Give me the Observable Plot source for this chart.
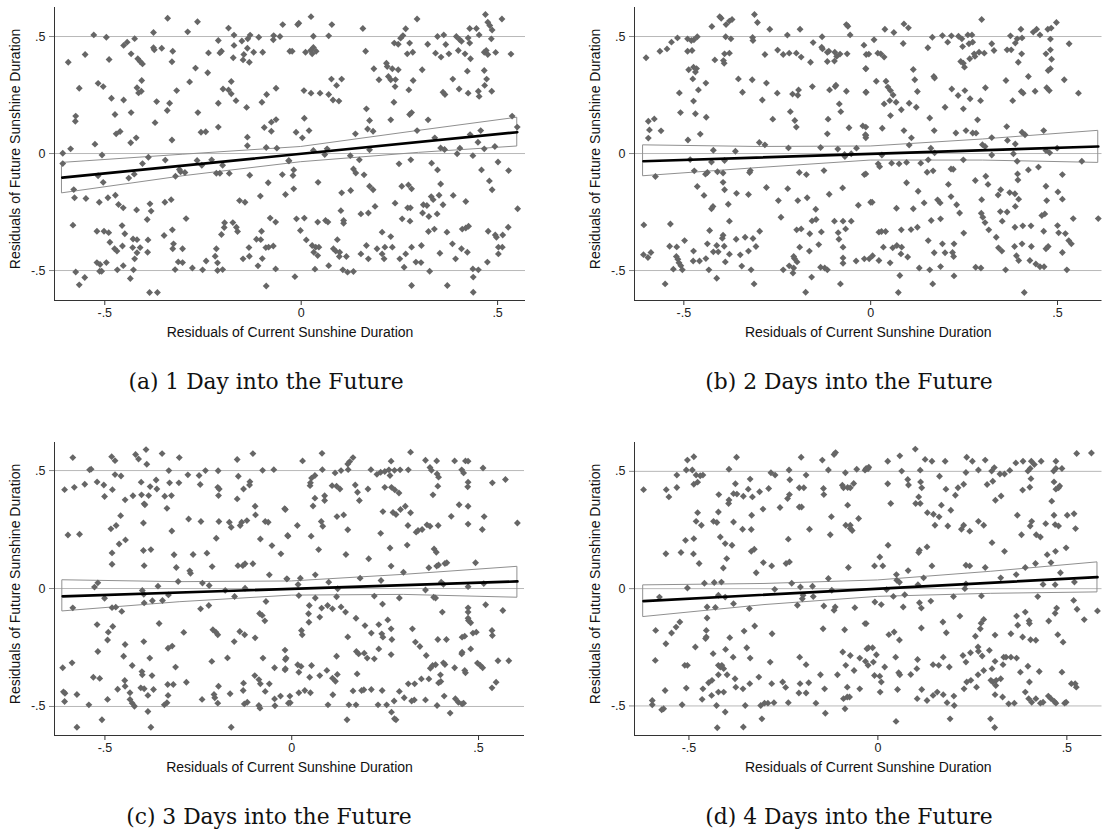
<!DOCTYPE html>
<html>
<head>
<meta charset="utf-8">
<script src="https://cdn.jsdelivr.net/npm/d3@7"></script>
<script src="https://cdn.jsdelivr.net/npm/@observablehq/plot@0.6"></script>
<style>
  html, body { margin: 0; padding: 0; background: #fff; }
  body { position: relative; width: 1102px; height: 833px; overflow: hidden; }
  .panel { position: absolute; }
  .cap { position: absolute; text-align: center; font-family: "DejaVu Serif", serif; font-size: 21.8px; line-height: 30px; color: #111; }
</style>
</head>
<body>
<div id="pa" class="panel" style="left:0;top:0"></div>
<div id="pb" class="panel" style="left:580px;top:0"></div>
<div id="pc" class="panel" style="left:0;top:435px"></div>
<div id="pd" class="panel" style="left:580px;top:435px"></div>
<div id="ca" class="cap" style="left:0;width:532px;top:367px"></div>
<div id="cb" class="cap" style="left:580px;width:538px;top:367px"></div>
<div id="cc" class="cap" style="left:0;width:538px;top:802px"></div>
<div id="cd" class="cap" style="left:580px;width:538px;top:802px"></div>
<script>
// ---------- text ----------
const captions = ["(a) 1 Day into the Future", "(b) 2 Days into the Future", "(c) 3 Days into the Future", "(d) 4 Days into the Future"];
const xTitle = "Residuals of Current Sunshine Duration";
const yTitle = "Residuals of Future Sunshine Duration";
const xTicks = [-0.5, 0, 0.5];
const xTickLabels = ["-.5", "0", ".5"];
const yTicks = [-0.5, 0, 0.5];
const yTickLabels = ["-.5", "0", ".5"];

// ---------- fitted line and 95% CI, read at a few x positions ----------
const fitA = {x: [-.608, -.3, 0, .3, .55], fit: [-.103, -.05, 0, .05, .091], lo: [-.170, -.097, -.037, .003, .030], hi: [-.040, -.005, .028, .097, .153]};
const fitB = {x: [-.608, -.3, 0, .3, .609], fit: [-.033, -.017, 0, .015, .030], lo: [-.097, -.062, -.03, -.03, -.040], hi: [.035, .028, .03, .06, .097]};
const fitC = {x: [-.613, -.3, 0, .3, .604], fit: [-.033, -.016, 0, .015, .030], lo: [-.097, -.058, -.03, -.027, -.039], hi: [.035, .027, .03, .058, .092]};
const fitD = {x: [-.62, -.3, 0, .3, .581], fit: [-.053, -.025, 0, .025, .049], lo: [-.121, -.07, -.035, -.022, -.016], hi: [.014, .02, .035, .072, .112]};

// ---------- scatter points [x, y] ----------
const pointsA = [[-.34,.578],[-.264,.563],[-.047,.551],[-.185,.536],[-.376,.517],[-.289,.52],[-.528,.507],[-.496,.497],[-.171,.506],[-.13,.506],[-.108,.497],[-.07,.504],[-.054,.5],[-.136,.49],[-.151,.481],[-.211,.483],[-.071,.486],[-.443,.476],[-.424,.491],[-.452,.462],[-.171,.462],[-.376,.452],[-.374,.443],[-.355,.45],[-.327,.437],[-.236,.43],[-.207,.43],[-.203,.437],[-.121,.433],[-.098,.433],[-.137,.45],[-.146,.423],[-.029,.437],[-.55,.423],[-.433,.426],[-.173,.409],[-.148,.4],[-.132,.39],[-.416,.405],[-.41,.393],[-.404,.383],[-.489,.402],[-.593,.39],[-.329,.392],[-.269,.365],[-.238,.345],[-.406,.312],[-.178,.308],[-.284,.306],[-.517,.3],[-.504,.286],[-.565,.279],[-.064,.279],[-.418,.281],[-.407,.266],[-.414,.259],[-.317,.269],[-.199,.276],[-.185,.272],[-.178,.255],[-.088,.252],[-.483,.236],[-.452,.229],[-.166,.226],[-.368,.222],[-.335,.215],[-.211,.215],[-.1,.219],[-.139,.197],[-.341,.184],[-.433,.175],[-.263,.175],[-.474,.167],[-.574,.16],[-.575,.138],[-.064,.145],[-.076,.134],[-.372,.132],[-.211,.113],[-.094,.111],[-.076,.095],[-.461,.094],[-.471,.084],[-.255,.091],[-.243,.093],[-.137,.07],[-.42,.067],[-.329,.058],[-.434,.046],[-.525,.04],[-.137,.033],[-.089,.026],[-.062,.023],[-.587,.02],[-.607,.001],[-.507,-.006],[-.389,-.016],[-.607,-.043],[-.404,-.043],[-.346,-.028],[-.265,-.03],[-.228,-.027],[-.253,-.05],[-.2,-.05],[-.032,-.031],[-.31,-.068],[-.307,-.078],[-.296,-.081],[-.216,-.084],[-.207,-.084],[-.183,-.085],[-.425,-.088],[-.048,-.09],[-.32,-.097],[-.131,-.093],[-.517,-.095],[-.439,-.105],[-.504,-.123],[-.084,-.125],[-.579,-.154],[-.04,-.175],[-.104,-.182],[-.577,-.189],[-.548,-.192],[-.492,-.189],[-.473,-.178],[-.514,-.208],[-.347,-.208],[-.331,-.197],[-.157,-.201],[-.143,-.208],[-.465,-.218],[-.453,-.232],[-.385,-.215],[-.419,-.241],[-.382,-.246],[-.293,-.278],[-.392,-.282],[-.079,-.276],[-.065,-.293],[-.581,-.306],[-.195,-.296],[-.196,-.316],[-.174,-.295],[-.165,-.315],[-.162,-.333],[-.52,-.332],[-.502,-.332],[-.49,-.338],[-.456,-.308],[-.449,-.343],[-.328,-.326],[-.203,-.346],[-.101,-.332],[-.349,-.35],[-.487,-.379],[-.428,-.365],[-.418,-.368],[-.39,-.369],[-.114,-.366],[-.103,-.368],[-.475,-.407],[-.469,-.417],[-.455,-.395],[-.429,-.402],[-.41,-.402],[-.325,-.386],[-.327,-.407],[-.302,-.407],[-.216,-.407],[-.133,-.402],[-.09,-.402],[-.083,-.4],[-.071,-.395],[-.418,-.424],[-.391,-.422],[-.424,-.45],[-.148,-.45],[-.132,-.439],[-.242,-.459],[-.219,-.439],[-.213,-.467],[-.099,-.449],[-.52,-.466],[-.512,-.474],[-.496,-.466],[-.453,-.479],[-.313,-.463],[-.302,-.466],[-.277,-.489],[-.251,-.497],[-.213,-.5],[-.2,-.496],[-.11,-.48],[-.513,-.503],[-.508,-.503],[-.468,-.497],[-.427,-.497],[-.321,-.496],[-.065,-.493],[-.574,-.506],[-.551,-.53],[-.435,-.534],[-.565,-.561],[-.089,-.566],[-.386,-.594],[-.366,-.594],
[.025,.585],[.469,.594],[.511,.575],[-.006,.557],[-.009,.551],[.078,.551],[.475,.561],[.48,.547],[.295,.575],[.157,.534],[.266,.533],[.429,.534],[.446,.534],[.486,.528],[.031,.501],[.07,.503],[.259,.504],[.253,.493],[.347,.5],[.363,.507],[.395,.5],[.403,.487],[.408,.48],[.425,.494],[.453,.507],[.484,.49],[.237,.472],[.247,.467],[.276,.472],[.322,.467],[.368,.466],[.429,.472],[-.023,.437],[.011,.433],[.024,.44],[.031,.453],[.028,.426],[.038,.437],[.164,.437],[.27,.426],[.284,.433],[.342,.429],[.356,.412],[.376,.426],[.4,.44],[.417,.426],[.466,.433],[.471,.44],[.475,.423],[.495,.432],[.534,.425],[.431,.405],[.217,.386],[.219,.372],[.185,.362],[.232,.362],[.247,.358],[.308,.358],[.466,.355],[.423,.352],[.222,.329],[.228,.315],[.24,.316],[.198,.315],[.285,.312],[.386,.318],[.472,.318],[.077,.318],[.09,.291],[.103,.318],[.467,.291],[.007,.269],[.025,.258],[.048,.258],[.07,.252],[.081,.229],[.096,.224],[.239,.286],[.274,.272],[.361,.262],[.366,.252],[.402,.276],[.425,.258],[.451,.266],[.453,.244],[.485,.266],[.236,.219],[.166,.191],[.008,.151],[.174,.141],[.228,.144],[.276,.167],[.281,.175],[.323,.144],[.537,.16],[.55,.113],[-.013,.091],[.02,.098],[.003,.067],[.138,.084],[.169,.105],[.183,.095],[.295,.098],[.457,.098],[.43,.081],[.34,.067],[.45,.048],[.355,.024],[.365,.017],[.466,.02],[.493,.03],[.404,.023],[.031,.013],[.066,.02],[.174,.016],[.06,-.004],[.125,-.009],[.397,-.001],[.437,-.009],[-.031,-.031],[.148,-.027],[.279,-.027],[.332,-.041],[.249,-.044],[.501,-.036],[.528,-.073],[.133,-.066],[.139,-.083],[.347,-.07],[.459,-.07],[.16,-.091],[-.019,-.07],[-.021,-.094],[.043,-.123],[-.019,-.151],[.479,-.117],[.174,-.14],[.183,-.155],[.256,-.14],[.273,-.134],[.281,-.151],[.355,-.13],[.486,-.155],[.103,-.168],[.126,-.158],[.331,-.184],[.351,-.178],[.387,-.179],[.419,-.205],[.336,-.197],[.239,-.212],[.311,-.219],[.188,-.226],[.271,-.232],[.278,-.232],[.361,-.219],[.551,-.236],[.101,-.244],[.152,-.258],[.171,-.254],[.309,-.254],[.32,-.222],[.325,-.269],[.346,-.258],[-.012,-.279],[.008,-.276],[.257,-.279],[.277,-.289],[.042,-.293],[.062,-.286],[.068,-.293],[.108,-.286],[.108,-.298],[-.002,-.329],[.206,-.336],[.228,-.355],[.324,-.333],[.339,-.323],[.371,-.336],[.41,-.323],[.419,-.318],[.426,-.311],[.476,-.332],[.494,-.348],[.497,-.358],[.513,-.348],[.527,-.315],[.013,-.369],[.028,-.393],[.037,-.4],[.045,-.4],[.032,-.422],[.042,-.436],[.092,-.368],[.082,-.407],[.088,-.417],[.098,-.422],[.115,-.44],[.097,-.44],[.152,-.429],[.166,-.393],[.171,-.45],[.193,-.407],[.206,-.429],[.211,-.45],[.213,-.4],[.232,-.4],[.251,-.45],[.266,-.429],[.281,-.4],[.306,-.393],[.292,-.464],[.305,-.466],[.353,-.426],[.385,-.386],[.393,-.45],[.408,-.407],[.423,-.422],[.474,-.464],[.502,-.4],[.512,-.4],[.502,-.429],[.07,-.479],[.035,-.494],[.106,-.497],[.118,-.507],[.133,-.504],[.262,-.486],[.327,-.503],[.437,-.493],[.451,-.497],[.438,-.528],[-.016,-.526],[.281,-.564],[.372,-.564],[.438,-.593]];

const pointsB = [[-.601,.409],[-.404,.585],[-.4,.578],[-.378,.566],[-.387,.551],[-.371,.573],[-.311,.594],[-.303,.56],[-.425,.543],[-.27,.531],[-.189,.531],[-.065,.551],[-.061,.544],[-.055,.507],[-.517,.494],[-.533,.476],[-.49,.49],[-.48,.483],[-.473,.486],[-.464,.499],[-.388,.499],[-.374,.49],[-.316,.496],[-.315,.483],[-.223,.506],[-.13,.499],[-.154,.474],[-.131,.454],[-.129,.447],[-.018,.463],[-.564,.437],[-.545,.447],[-.49,.437],[-.478,.44],[-.391,.426],[-.378,.429],[-.249,.442],[-.234,.423],[-.218,.429],[-.199,.429],[-.186,.412],[-.161,.39],[-.116,.433],[-.112,.437],[-.096,.433],[-.082,.425],[-.063,.426],[-.012,.423],[-.283,.423],[-.417,.4],[-.394,.397],[-.392,.386],[-.116,.393],[-.097,.395],[-.091,.415],[-.013,.363],[-.487,.358],[-.474,.369],[-.466,.363],[-.469,.348],[-.476,.319],[-.441,.301],[-.354,.319],[-.317,.315],[-.279,.301],[-.193,.272],[-.195,.249],[-.209,.254],[-.461,.272],[-.512,.259],[-.343,.262],[-.25,.258],[-.156,.286],[-.11,.272],[-.095,.286],[-.093,.292],[-.065,.266],[-.012,.262],[-.474,.224],[-.29,.229],[-.084,.212],[-.08,.179],[-.509,.175],[-.469,.17],[-.44,.155],[-.215,.179],[-.262,.147],[-.203,.141],[-.199,.113],[-.114,.147],[-.058,.11],[-.021,.118],[-.595,.138],[-.579,.148],[-.592,.101],[-.561,.097],[-.456,.083],[-.116,.084],[-.014,.08],[-.013,.067],[-.595,.066],[-.489,.058],[-.298,.047],[-.283,.037],[-.421,.014],[-.362,.01],[-.22,.024],[-.134,.026],[-.088,.019],[-.038,.023],[-.483,-.026],[-.426,-.036],[-.391,-.03],[-.07,-.004],[-.052,-.001],[-.069,-.013],[-.576,-.098],[-.472,-.074],[-.442,-.088],[-.437,-.081],[-.41,-.078],[-.395,-.083],[-.322,-.073],[-.324,-.081],[-.191,-.081],[-.172,-.09],[-.125,-.073],[-.017,-.09],[-.395,-.123],[-.464,-.141],[-.391,-.155],[-.446,-.179],[-.359,-.17],[-.327,-.175],[-.279,-.145],[-.222,-.15],[-.111,-.174],[-.075,-.147],[-.247,-.201],[-.195,-.201],[-.17,-.189],[-.381,-.217],[-.422,-.226],[-.426,-.236],[-.033,-.221],[0,-.208],[-.147,-.238],[-.24,-.272],[-.378,-.289],[-.536,-.301],[-.607,-.305],[-.157,-.288],[-.146,-.282],[-.097,-.289],[-.074,-.289],[-.052,-.289],[-.067,-.322],[-.198,-.326],[-.186,-.322],[-.431,-.329],[-.297,-.332],[-.163,-.343],[-.132,-.335],[-.087,-.338],[-.498,-.372],[-.336,-.358],[-.315,-.363],[-.395,-.349],[-.397,-.362],[-.36,-.366],[-.538,-.396],[-.519,-.399],[-.437,-.386],[-.412,-.393],[-.392,-.396],[-.307,-.397],[-.19,-.4],[-.139,-.389],[-.074,-.4],[-.164,-.417],[-.085,-.366],[-.474,-.417],[-.421,-.42],[-.408,-.42],[-.378,-.43],[-.349,-.433],[-.327,-.417],[-.588,-.423],[-.608,-.432],[-.596,-.444],[-.52,-.44],[-.516,-.452],[-.441,-.449],[-.206,-.44],[-.204,-.449],[-.197,-.463],[-.475,-.459],[-.458,-.459],[-.389,-.463],[-.345,-.481],[-.017,-.45],[-.039,-.459],[-.074,-.446],[-.074,-.469],[-.513,-.467],[-.508,-.479],[-.504,-.497],[-.528,-.494],[-.433,-.497],[-.234,-.497],[-.218,-.48],[-.206,-.489],[-.208,-.511],[-.134,-.486],[-.123,-.489],[-.116,-.497],[-.32,-.497],[-.412,-.533],[-.158,-.528],[-.55,-.557],[-.312,-.557],[-.081,-.557],[-.174,-.593],
[.297,.573],[.089,.554],[.101,.537],[.038,.531],[.062,.517],[.402,.531],[.435,.519],[.444,.531],[.474,.531],[.483,.536],[.497,.56],[.453,.507],[.165,.497],[.192,.504],[.216,.503],[.235,.501],[.244,.49],[.26,.507],[.271,.507],[.273,.476],[.263,.469],[.374,.503],[.392,.49],[.405,.494],[.481,.489],[.009,.486],[.087,.47],[.206,.476],[.153,.452],[.246,.457],[.324,.469],[.365,.443],[.376,.443],[.387,.472],[.531,.469],[.481,.443],[-.005,.425],[.019,.429],[.027,.426],[.036,.412],[.277,.426],[.279,.415],[.29,.433],[.304,.429],[.33,.44],[.404,.426],[.469,.426],[.241,.393],[.248,.386],[.251,.369],[.265,.405],[.395,.39],[.484,.403],[-.013,.362],[.114,.359],[.169,.329],[.171,.323],[.118,.315],[.015,.309],[.041,.309],[.362,.312],[.422,.329],[.475,.355],[.481,.362],[.518,.315],[.046,.284],[.053,.269],[.125,.265],[.217,.276],[.234,.248],[.252,.269],[.266,.234],[.307,.281],[.403,.265],[.408,.258],[.44,.266],[.471,.281],[.478,.269],[.556,.258],[-.013,.262],[.06,.25],[.051,.226],[.036,.212],[.068,.219],[.103,.215],[.082,.187],[.122,.198],[.199,.198],[.248,.191],[.294,.226],[.38,.226],[.053,.162],[.158,.152],[.286,.144],[-.013,.113],[.031,.108],[.089,.098],[.17,.098],[.228,.088],[.255,.098],[.273,.088],[.282,.087],[.364,.115],[.405,.091],[.413,.08],[.463,.098],[-.013,.077],[.109,.067],[.324,.068],[.103,.036],[.161,.023],[.299,.038],[.306,.03],[.366,.056],[.387,.041],[.469,.013],[.499,.023],[.479,.003],[.03,-.006],[.171,.003],[.324,-.006],[.382,-.001],[.02,-.044],[.024,-.056],[.056,-.041],[.076,-.044],[.096,-.038],[.134,-.041],[.154,-.027],[.248,-.027],[.392,-.033],[.565,-.033],[-.013,-.087],[.151,-.08],[.167,-.074],[.215,-.066],[.221,-.067],[.393,-.087],[.422,-.07],[.449,-.058],[.513,-.09],[.096,-.125],[.208,-.132],[.28,-.115],[.308,-.097],[.314,-.132],[.394,-.113],[.469,-.14],[.127,-.161],[.348,-.155],[.341,-.177],[.372,-.167],[.386,-.172],[.396,-.195],[.004,-.208],[.143,-.211],[.179,-.198],[.186,-.211],[.215,-.184],[.23,-.219],[.297,-.197],[.471,-.201],[.501,-.164],[.513,-.195],[.069,-.234],[.114,-.236],[.238,-.254],[.296,-.255],[.347,-.248],[.365,-.25],[.387,-.226],[.458,-.265],[.466,-.258],[.3,-.272],[.306,-.295],[.162,-.286],[.187,-.279],[.352,-.289],[.386,-.315],[.407,-.309],[.429,-.309],[.5,-.308],[.542,-.278],[.609,-.278],[.022,-.336],[.029,-.333],[.04,-.333],[.082,-.326],[.108,-.325],[.125,-.315],[.249,-.34],[.316,-.326],[.463,-.332],[.503,-.339],[.521,-.342],[.53,-.372],[.537,-.386],[.154,-.372],[.192,-.386],[.223,-.386],[.336,-.358],[.342,-.403],[.351,-.417],[.385,-.397],[.405,-.386],[.43,-.397],[.469,-.407],[.475,-.397],[.513,-.423],[.034,-.4],[.059,-.403],[.07,-.393],[.083,-.4],[.081,-.429],[.099,-.442],[.17,-.424],[.199,-.424],[.219,-.423],[.222,-.44],[-.004,-.45],[.005,-.437],[.022,-.457],[.052,-.467],[.39,-.437],[.396,-.457],[.426,-.457],[.442,-.472],[.453,-.484],[.464,-.484],[.13,-.489],[.158,-.497],[.187,-.483],[.281,-.486],[.295,-.489],[.361,-.497],[.525,-.497],[.078,-.521],[.223,-.523],[.166,-.557],[.074,-.594],[.411,-.594]];

const pointsC = [[-.39,.589],[-.347,.572],[-.586,.555],[-.482,.559],[-.473,.542],[-.418,.568],[-.41,.549],[-.388,.527],[-.301,.555],[-.104,.572],[-.146,.547],[-.541,.503],[-.537,.506],[-.329,.5],[-.231,.5],[-.197,.499],[-.078,.501],[-.048,.504],[-.473,.483],[-.457,.477],[-.278,.482],[-.248,.479],[-.143,.476],[-.363,.46],[-.112,.453],[-.608,.419],[-.582,.429],[-.554,.442],[-.521,.452],[-.503,.439],[-.48,.419],[-.403,.451],[-.379,.432],[-.361,.422],[-.327,.448],[-.302,.448],[-.245,.441],[-.198,.429],[-.194,.422],[-.129,.422],[-.113,.439],[-.501,.39],[-.446,.376],[-.425,.393],[-.402,.397],[-.395,.359],[-.393,.355],[-.383,.394],[-.34,.391],[-.322,.394],[-.196,.394],[-.146,.38],[-.334,.34],[-.098,.349],[-.019,.338],[-.458,.309],[-.484,.253],[-.47,.267],[-.397,.278],[-.321,.244],[-.276,.295],[-.243,.284],[-.195,.284],[-.167,.281],[-.162,.26],[-.138,.267],[-.134,.281],[-.12,.288],[-.097,.312],[-.071,.284],[-.063,.281],[-.599,.227],[-.568,.23],[-.445,.206],[-.462,.189],[-.202,.213],[-.084,.21],[-.011,.225],[-.377,.165],[-.397,.161],[-.481,.151],[-.315,.143],[-.264,.144],[-.227,.15],[-.053,.182],[-.029,.147],[-.481,.103],[-.395,.097],[-.309,.089],[-.273,.075],[-.271,.065],[-.213,.093],[-.144,.097],[-.131,.097],[-.125,.105],[-.104,.105],[-.06,.058],[-.013,.041],[-.304,.03],[-.358,.01],[-.239,.023],[-.221,.013],[-.528,.006],[-.519,.024],[-.4,-.008],[-.396,-.024],[-.33,-.027],[-.178,-.008],[-.125,.001],[-.501,-.041],[-.373,-.052],[-.346,-.051],[-.395,-.061],[-.153,-.034],[-.069,-.055],[-.586,-.082],[-.481,-.081],[-.471,-.079],[-.455,-.097],[-.244,-.086],[-.222,-.072],[-.086,-.106],[-.079,-.114],[-.072,-.137],[-.521,-.153],[-.355,-.148],[-.491,-.185],[-.479,-.161],[-.289,-.186],[-.211,-.175],[-.198,-.196],[-.203,-.185],[-.139,-.182],[-.126,-.196],[-.493,-.218],[-.396,-.225],[-.331,-.253],[-.32,-.244],[-.154,-.225],[-.098,-.209],[-.446,-.237],[-.519,-.267],[-.018,-.261],[-.172,-.294],[-.214,-.309],[-.077,-.295],[-.015,-.295],[-.45,-.287],[-.38,-.295],[-.613,-.336],[-.588,-.315],[-.427,-.326],[-.311,-.333],[-.046,-.336],[-.018,-.345],[-.531,-.376],[-.514,-.381],[-.401,-.352],[-.4,-.366],[-.374,-.369],[-.099,-.369],[-.088,-.386],[-.447,-.39],[-.282,-.397],[-.129,-.401],[-.084,-.404],[-.06,-.404],[-.332,-.407],[-.317,-.407],[-.446,-.414],[-.466,-.427],[-.404,-.421],[-.395,-.425],[-.37,-.428],[-.196,-.414],[-.611,-.438],[-.607,-.444],[-.575,-.449],[-.433,-.442],[-.331,-.453],[-.208,-.449],[-.206,-.463],[-.165,-.446],[-.13,-.432],[-.071,-.436],[-.005,-.456],[-.03,-.456],[-.046,-.468],[-.493,-.47],[-.433,-.47],[-.385,-.453],[-.608,-.479],[-.427,-.486],[-.421,-.499],[-.543,-.493],[-.341,-.493],[-.334,-.484],[-.24,-.47],[-.198,-.486],[-.119,-.482],[-.127,-.489],[-.088,-.496],[-.085,-.507],[-.045,-.497],[-.009,-.486],[-.385,-.521],[-.508,-.556],[-.575,-.588],[-.377,-.588],[-.162,-.588],
[.318,.578],[.081,.573],[.029,.541],[.164,.555],[.155,.538],[.266,.54],[.358,.544],[.388,.541],[.436,.541],[.465,.541],[.472,.54],[.082,.504],[.15,.528],[.151,.504],[.212,.504],[.228,.484],[.238,.493],[.249,.496],[.26,.503],[.263,.479],[.275,.501],[.29,.503],[.312,.503],[.37,.513],[.374,.501],[.389,.486],[.393,.472],[.455,.503],[.46,.49],[.512,.511],[.116,.49],[.132,.5],[.053,.468],[.062,.479],[.05,.448],[.049,.436],[.108,.436],[.12,.434],[.129,.422],[.17,.439],[.204,.422],[.249,.429],[.267,.429],[.276,.418],[.287,.405],[.391,.434],[.472,.451],[.471,.431],[.537,.448],[.572,.462],[.062,.383],[.057,.35],[.088,.393],[.088,.373],[.176,.408],[.181,.373],[.378,.397],[-.017,.335],[.079,.284],[.083,.264],[.015,.267],[.121,.305],[.139,.312],[.15,.249],[.244,.326],[.271,.322],[.279,.314],[.291,.335],[.304,.349],[.318,.321],[.311,.267],[.333,.239],[.338,.246],[.349,.25],[.362,.27],[.37,.264],[.392,.267],[.427,.306],[.448,.355],[.472,.349],[.472,.273],[.51,.25],[.515,.305],[.604,.278],[.238,.234],[-.01,.222],[.052,.222],[.072,.165],[.145,.144],[.206,.126],[.263,.172],[.309,.184],[.381,.168],[.387,.154],[.266,.095],[.299,.069],[.367,.088],[.388,.095],[.393,.1],[.41,.106],[.415,.109],[.492,.109],[-.013,.041],[.023,.044],[.063,.058],[.099,.027],[.183,.044],[.239,.034],[.4,.027],[.406,.018],[.017,.017],[.358,-.006],[.472,.008],[.514,.021],[.123,-.001],[.019,-.03],[.063,-.04],[.12,-.035],[.221,-.032],[.288,-.04],[.38,-.037],[.385,-.04],[.243,-.066],[.047,-.072],[.08,-.083],[.096,-.072],[.109,-.086],[.132,-.078],[.144,-.1],[.045,-.107],[.046,-.143],[.075,-.121],[.172,-.126],[.196,-.157],[.403,-.1],[.472,-.082],[.472,-.1],[.472,-.126],[.473,-.136],[.479,-.145],[.519,-.069],[.565,-.093],[.257,-.133],[.233,-.153],[.266,-.171],[.213,-.189],[.241,-.192],[.244,-.206],[.323,-.171],[.026,-.178],[.028,-.196],[.15,-.205],[.268,-.216],[.391,-.216],[.414,-.216],[.456,-.206],[.463,-.202],[.485,-.189],[.494,-.185],[.536,-.178],[.537,-.199],[.331,-.227],[.343,-.246],[.479,-.256],[.233,-.256],[.173,-.267],[.179,-.277],[.194,-.274],[.202,-.295],[.221,-.298],[.266,-.28],[.36,-.284],[.12,-.287],[.455,-.277],[.456,-.27],[.552,-.306],[-.017,-.301],[-.017,-.34],[.016,-.323],[.025,-.33],[.019,-.355],[.053,-.326],[.048,-.376],[.075,-.369],[.094,-.347],[.109,-.38],[.117,-.393],[.122,-.364],[.175,-.362],[.371,-.338],[.377,-.326],[.385,-.323],[.406,-.315],[.41,-.322],[.398,-.366],[.367,-.383],[.347,-.383],[.329,-.404],[.312,-.404],[.393,-.4],[.399,-.394],[.436,-.336],[.465,-.357],[.463,-.347],[.497,-.316],[.505,-.326],[.511,-.336],[.547,-.397],[.536,-.421],[.581,-.306],[-.004,-.484],[.019,-.442],[.035,-.432],[.05,-.442],[.11,-.45],[.097,-.493],[.153,-.493],[.172,-.493],[.164,-.434],[.187,-.432],[.193,-.429],[.213,-.428],[.242,-.432],[.231,-.493],[.254,-.493],[.267,-.524],[.275,-.552],[.279,-.556],[.148,-.556],[.274,-.477],[.288,-.436],[.301,-.463],[.321,-.477],[.328,-.472],[.358,-.472],[.389,-.496],[.408,-.456],[.424,-.528],[.438,-.467],[.446,-.482],[.456,-.489],[.46,-.486]];

const pointsD = [[-.62,.422],[-.112,.58],[-.116,.572],[-.147,.548],[-.203,.56],[-.374,.56],[-.487,.562],[-.504,.548],[-.491,.506],[-.507,.506],[-.394,.509],[-.283,.494],[-.272,.484],[-.235,.506],[-.131,.506],[-.056,.509],[-.034,.505],[-.026,.511],[-.086,.494],[-.532,.484],[-.481,.484],[-.47,.481],[-.463,.484],[-.487,.445],[-.477,.454],[-.19,.484],[-.338,.467],[-.233,.464],[-.377,.447],[-.56,.422],[-.532,.431],[-.553,.391],[-.421,.401],[-.394,.378],[-.395,.363],[-.382,.405],[-.373,.403],[-.356,.394],[-.343,.424],[-.332,.391],[-.313,.413],[-.289,.427],[-.234,.401],[-.239,.384],[-.208,.43],[-.196,.43],[-.144,.427],[-.143,.401],[-.094,.441],[-.091,.43],[-.08,.431],[-.073,.43],[-.064,.448],[-.422,.327],[-.435,.287],[-.426,.282],[-.477,.324],[-.481,.287],[-.467,.27],[-.334,.313],[-.304,.339],[-.382,.284],[-.259,.346],[-.208,.348],[-.202,.348],[-.123,.307],[-.08,.356],[-.051,.299],[-.085,.27],[-.073,.27],[-.073,.256],[-.068,.248],[-.126,.23],[-.237,.211],[-.335,.252],[-.358,.253],[-.181,.253],[-.417,.22],[-.404,.192],[-.386,.185],[-.509,.206],[-.487,.213],[-.488,.148],[-.473,.107],[-.561,.149],[-.521,.154],[-.4,.128],[-.409,.088],[-.335,.159],[-.327,.168],[-.322,.068],[-.303,.111],[-.281,.097],[-.243,.107],[-.234,.114],[-.228,.023],[-.273,-.003],[-.131,.043],[-.078,.09],[-.459,.023],[-.433,.026],[-.414,.028],[-.504,.003],[-.578,-.036],[-.422,-.028],[-.404,-.036],[-.382,-.064],[-.34,-.085],[-.205,.007],[-.198,-.028],[-.2,-.043],[-.173,.01],[-.171,-.034],[-.122,-.007],[-.213,-.071],[-.143,-.074],[-.113,-.078],[-.116,-.092],[-.061,-.081],[-.452,-.078],[-.43,-.08],[-.452,-.125],[-.588,-.178],[-.546,-.189],[-.534,-.164],[-.524,-.142],[-.454,-.178],[-.454,-.206],[-.456,-.213],[-.392,-.209],[-.354,-.181],[-.326,-.159],[-.28,-.192],[-.145,-.171],[-.088,-.175],[-.031,-.149],[-.561,-.235],[-.483,-.249],[-.436,-.277],[-.403,-.259],[-.347,-.252],[-.093,-.27],[-.073,-.285],[-.048,-.296],[-.029,-.256],[-.589,-.306],[-.511,-.327],[-.338,-.296],[-.383,-.292],[-.285,-.313],[-.207,-.292],[-.19,-.324],[-.085,-.327],[-.063,-.349],[-.033,-.31],[-.026,-.327],[-.422,-.327],[-.417,-.334],[-.413,-.327],[-.408,-.341],[-.422,-.367],[-.399,-.367],[-.439,-.391],[-.448,-.401],[-.463,-.427],[-.44,-.455],[-.422,-.441],[-.408,-.441],[-.378,-.384],[-.376,-.42],[-.357,-.427],[-.339,-.405],[-.315,-.377],[-.281,-.405],[-.252,-.398],[-.244,-.421],[-.206,-.405],[-.209,-.445],[-.19,-.445],[-.183,-.401],[-.164,-.488],[-.152,-.367],[-.141,-.427],[-.107,-.367],[-.081,-.42],[-.081,-.462],[-.075,-.462],[-.048,-.427],[-.091,-.469],[-.087,-.512],[-.507,-.424],[-.563,-.434],[-.504,-.327],[-.465,-.472],[-.597,-.477],[-.597,-.495],[-.572,-.516],[-.567,-.512],[-.518,-.495],[-.427,-.498],[-.351,-.498],[-.31,-.498],[-.3,-.488],[-.291,-.488],[-.275,-.486],[-.237,-.486],[-.139,-.531],[-.307,-.555],[-.404,-.526],[-.425,-.593],[-.356,-.59],
[.099,.595],[.526,.576],[.565,.578],[.026,.543],[.058,.566],[.125,.551],[.143,.543],[.178,.543],[.235,.56],[.25,.543],[.284,.548],[.365,.536],[.384,.543],[.406,.543],[.432,.543],[.471,.543],[-.031,.512],[-.024,.518],[.063,.501],[.112,.505],[.233,.495],[.266,.506],[.301,.501],[.308,.516],[.323,.489],[.335,.489],[.349,.504],[.397,.501],[.403,.512],[.414,.529],[.465,.501],[.471,.512],[.487,.512],[.026,.447],[.079,.465],[.081,.442],[.113,.455],[.116,.43],[.108,.391],[.163,.479],[.18,.424],[.205,.398],[.212,.43],[.227,.445],[.289,.444],[.304,.458],[.311,.377],[.326,.395],[.383,.42],[.402,.432],[.405,.469],[.466,.455],[.471,.424],[.481,.438],[.478,.43],[.46,.373],[.034,.363],[.1,.363],[.112,.363],[.131,.324],[.147,.317],[.162,.306],[.168,.356],[.193,.334],[.151,.27],[.185,.267],[.221,.253],[.227,.27],[.243,.245],[.266,.287],[.28,.27],[.369,.313],[.38,.23],[.407,.287],[.403,.267],[.419,.23],[.43,.22],[.444,.277],[.469,.273],[.478,.267],[.466,.313],[.501,.313],[.519,.319],[.523,.256],[.027,.185],[.108,.154],[.13,.178],[.11,.164],[.302,.196],[.335,.159],[.448,.145],[.47,.159],[.498,.174],[.005,.135],[-.009,.097],[.013,.097],[.143,.097],[.08,.077],[.233,.1],[.243,.097],[.284,.09],[.39,.09],[.417,.107],[.458,.111],[.483,.068],[.049,.06],[.121,.046],[.325,.046],[.366,.06],[.05,.036],[.057,.027],[.106,.017],[.437,.018],[.469,.017],[.52,.028],[.233,.02],[.023,-.004],[.071,-.026],[.041,-.033],[.23,0],[.274,-.031],[.423,-.034],[-.008,-.057],[.009,-.068],[.067,-.078],[.11,-.06],[.115,-.083],[.14,-.053],[.2,-.034],[.518,-.05],[.527,-.088],[.546,-.132],[.581,-.095],[.217,-.117],[.172,-.142],[.28,-.131],[.273,-.147],[.181,-.188],[.115,-.168],[.029,-.196],[.043,-.185],[.057,-.219],[.258,-.203],[.271,-.171],[.31,-.198],[.352,-.192],[.367,-.117],[.37,-.156],[.39,-.1],[.4,-.137],[.401,-.149],[.383,-.206],[.404,-.218],[.418,-.22],[.452,-.138],[.469,-.105],[.473,-.083],[.476,-.196],[.49,-.228],[-.034,-.149],[-.025,-.252],[-.014,-.252],[-.012,-.313],[-.004,-.282],[.018,-.334],[.047,-.292],[.105,-.302],[.103,-.341],[.087,-.366],[.055,-.358],[.058,-.367],[.146,-.324],[.161,-.327],[.173,-.292],[.189,-.334],[.225,-.285],[.233,-.313],[.245,-.273],[.265,-.249],[.266,-.267],[.276,-.287],[.295,-.263],[.31,-.31],[.333,-.292],[.339,-.292],[.352,-.292],[.331,-.324],[.367,-.296],[.377,-.356],[.397,-.331],[.427,-.353],[.487,-.356],[-.009,-.37],[.005,-.373],[.009,-.398],[.006,-.441],[.052,-.43],[.116,-.43],[.104,-.469],[.13,-.477],[.146,-.455],[.157,-.441],[.173,-.452],[.201,-.458],[.183,-.486],[.202,-.498],[.228,-.427],[.235,-.398],[.246,-.391],[.261,-.42],[.265,-.367],[.28,-.349],[.302,-.341],[.299,-.391],[.304,-.398],[.313,-.391],[.325,-.384],[.312,-.413],[.31,-.452],[.33,-.462],[.346,-.491],[.361,-.488],[.39,-.441],[.401,-.398],[.399,-.469],[.407,-.484],[.418,-.469],[.43,-.488],[.437,-.484],[.451,-.458],[.458,-.469],[.467,-.481],[.471,-.488],[.494,-.488],[.498,-.484],[.512,-.405],[.522,-.405],[.525,-.42],[.048,-.566],[.191,-.555],[.298,-.555],[.309,-.592]];

// ---------- panel settings (library options) ----------
const panels = [
  {id: "pa", cap: "ca", pts: pointsA, fit: fitA, width: 551, marginRight: 26, xDomain: [-0.628, 0.571], yDomain: [-0.628, 0.624]},
  {id: "pb", cap: "cb", pts: pointsB, fit: fitB, width: 522, marginRight: 0.5, xDomain: [-0.632, 0.619], yDomain: [-0.628, 0.624]},
  {id: "pc", cap: "cc", pts: pointsC, fit: fitC, width: 551, marginRight: 27, xDomain: [-0.635, 0.623], yDomain: [-0.623, 0.619]},
  {id: "pd", cap: "cd", pts: pointsD, fit: fitD, width: 522, marginRight: 0.5, xDomain: [-0.644, 0.593], yDomain: [-0.626, 0.623]}
];

const xLab = new Map(xTicks.map((v, i) => [v, xTickLabels[i]]));
const yLab = new Map(yTicks.map((v, i) => [v, yTickLabels[i]]));

panels.forEach((p, k) => {
  const band = p.fit.x.map((x, i) => ({x, fit: p.fit.fit[i], lo: p.fit.lo[i], hi: p.fit.hi[i]}));
  const ends = [band[0], band[band.length - 1]];
  const chart = Plot.plot({
    width: p.width, height: 345,
    marginLeft: 54, marginTop: 7, marginBottom: 45, marginRight: p.marginRight,
    x: {domain: p.xDomain},
    y: {domain: p.yDomain},
    style: {fontFamily: "'Liberation Sans', Arial, sans-serif", fontSize: "12.5px", color: "#222", background: "transparent"},
    marks: [
      Plot.gridY(yTicks, {stroke: "#b8b8b8", strokeOpacity: 1, strokeWidth: 1}),
      Plot.axisY(yTicks, {tickFormat: d => yLab.get(d), tickSize: 5, tickPadding: 4, label: null, stroke: "#888"}),
      Plot.axisX(xTicks, {tickFormat: d => xLab.get(d), tickSize: 5, tickPadding: 3, label: null, stroke: "#333"}),
      Plot.ruleX([p.xDomain[0]], {stroke: "#333", strokeWidth: 1}),
      Plot.ruleY([p.yDomain[0]], {stroke: "#333", strokeWidth: 1}),
      Plot.areaY(band, {x: "x", y1: "lo", y2: "hi", fill: "none", stroke: "#909090", strokeWidth: 1}),
      Plot.dot(p.pts, {x: d => d[0], y: d => d[1], symbol: "diamond2", r: 3.1, fill: "#666", stroke: "none"}),
      Plot.line(ends, {x: "x", y: "fit", stroke: "#000", strokeWidth: 2.7}),
      Plot.text([xTitle], {text: d => d, frameAnchor: "bottom", dy: 32, lineAnchor: "middle", textAnchor: "middle", fontSize: 14, fill: "#111"}),
      Plot.text([yTitle], {text: d => d, frameAnchor: "left", dx: -39, dy: -5, rotate: -90, lineAnchor: "middle", textAnchor: "middle", fontSize: 14, fill: "#111"})
    ]
  });
  document.getElementById(p.id).appendChild(chart);
  document.getElementById(p.cap).textContent = captions[k];
});
</script>
</body>
</html>
